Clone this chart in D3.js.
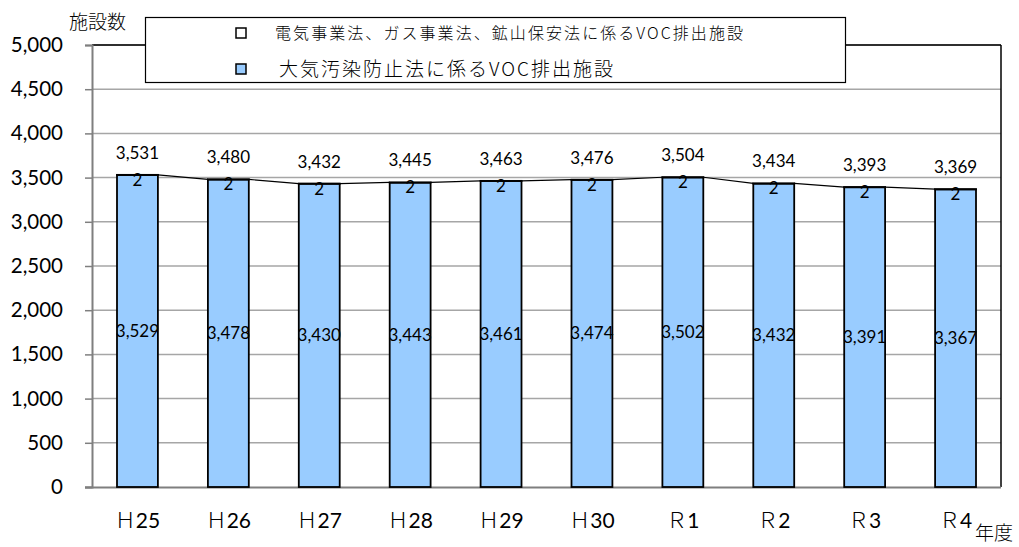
<!DOCTYPE html>
<html><head><meta charset="utf-8">
<script src="https://cdn.jsdelivr.net/npm/d3@7"></script>
<style>
body{margin:0;background:#fff;}
text{font-family:Lato,"Noto Sans CJK JP",sans-serif;}
.jp{font-family:"Noto Sans CJK JP",sans-serif;font-weight:300;}
</style></head>
<body><svg id="c" width="1019" height="547"></svg>
<script>
const categories = ["Ｈ25","Ｈ26","Ｈ27","Ｈ28","Ｈ29","Ｈ30","Ｒ1","Ｒ2","Ｒ3","Ｒ4"];
const airValues = [3529,3478,3430,3443,3461,3474,3502,3432,3391,3367];
const otherValues = [2,2,2,2,2,2,2,2,2,2];
const yTicks = [0,500,1000,1500,2000,2500,3000,3500,4000,4500,5000];
const legendLabels = ["電気事業法、ガス事業法、鉱山保安法に係るVOC排出施設","大気汚染防止法に係るVOC排出施設"];
const yTitle = "施設数", xTitle = "年度";

const svg = d3.select("#c");
const L=92,R=1001,T=45,B=487;
const x = d3.scaleBand().domain(categories).range([L,R]).paddingInner(0.55).paddingOuter(0.275);
const y = d3.scaleLinear().domain([0,5000]).range([B,T]);
const fmt = d3.format(",");

// gridlines
svg.append("g").selectAll("line").data(yTicks.filter(d=>d>0)).join("line")
  .attr("x1",L).attr("x2",R).attr("y1",d=>y(d)).attr("y2",d=>y(d))
  .attr("stroke","#a6a6a6").attr("stroke-width",1.5);
// plot border top/right
svg.append("line").attr("x1",L).attr("x2",R).attr("y1",T).attr("y2",T).attr("stroke","#000").attr("stroke-width",1.5);
svg.append("line").attr("x1",R).attr("x2",R).attr("y1",T).attr("y2",B).attr("stroke","#000").attr("stroke-width",1.5);

// y axis
const ya = svg.append("g").attr("transform",`translate(${L},0)`)
  .call(d3.axisLeft(y).tickValues(yTicks).tickFormat(fmt).tickSize(7).tickPadding(22));
ya.select(".domain").attr("stroke","#7f7f7f").attr("stroke-width",2);
ya.selectAll(".tick line").attr("stroke","#7f7f7f").attr("stroke-width",1.5);
ya.selectAll("text").attr("font-size",20.5).attr("fill","#000").attr("font-family","Lato,sans-serif");

// x axis
const xa = svg.append("g").attr("transform",`translate(0,${B})`)
  .call(d3.axisBottom(x).tickSize(0).tickPadding(22));
xa.select(".domain").attr("stroke","#7f7f7f").attr("stroke-width",2).attr("d",`M${L-7},0.5H${R}`);
xa.selectAll("text").attr("font-size",21).attr("fill","#000").attr("dy","0.9em")
  .each(function(d){
    const t=d3.select(this); t.text(null);
    t.append("tspan").attr("class","jp").text(d.slice(0,1));
    t.append("tspan").text(d.slice(1));
  });

// bars
const bw = x.bandwidth();
svg.append("g").selectAll("rect").data(categories).join("rect")
  .attr("x",d=>x(d)).attr("width",bw)
  .attr("y",(d,i)=>y(airValues[i])).attr("height",(d,i)=>y(0)-y(airValues[i]))
  .attr("fill","#99ccff").attr("stroke","#000").attr("stroke-width",1.8);
svg.append("g").selectAll("rect").data(categories).join("rect")
  .attr("x",d=>x(d)).attr("width",bw)
  .attr("y",(d,i)=>y(airValues[i]+otherValues[i])).attr("height",(d,i)=>y(airValues[i])-y(airValues[i]+otherValues[i]))
  .attr("fill","#fff").attr("stroke","#000").attr("stroke-width",1.8);

// series lines
const segs = categories.slice(0,-1).map((c,i)=>({x1:x(c)+bw,y1:y(airValues[i]+otherValues[i]),x2:x(categories[i+1]),y2:y(airValues[i+1]+otherValues[i+1])}));
svg.append("g").selectAll("line").data(segs).join("line")
  .attr("x1",d=>d.x1).attr("y1",d=>d.y1).attr("x2",d=>d.x2).attr("y2",d=>d.y2)
  .attr("stroke","#000").attr("stroke-width",1.2);

// labels
svg.append("g").selectAll("text").data(categories).join("text")
  .attr("x",d=>x(d)+bw/2).attr("y",(d,i)=>y(airValues[i]/2)).attr("dy","0.35em")
  .attr("text-anchor","middle").attr("font-size",17).text((d,i)=>fmt(airValues[i]));
svg.append("g").selectAll("text").data(categories).join("text")
  .attr("x",d=>x(d)+bw/2).attr("y",(d,i)=>y(airValues[i]+otherValues[i])+5).attr("dy","0.35em")
  .attr("text-anchor","middle").attr("font-size",17).text((d,i)=>otherValues[i]);
svg.append("g").selectAll("text").data(categories).join("text")
  .attr("x",d=>x(d)+bw/2).attr("y",(d,i)=>y(airValues[i]+otherValues[i])-22).attr("dy","0.35em")
  .attr("text-anchor","middle").attr("font-size",17).text((d,i)=>fmt(airValues[i]+otherValues[i]));

// titles
svg.append("text").attr("class","jp").attr("x",69).attr("y",29).attr("font-size",19).text(yTitle);
svg.append("text").attr("class","jp").attr("x",975).attr("y",540).attr("font-size",19).text(xTitle);

// legend
const lg = svg.append("g");
lg.append("rect").attr("x",145.5).attr("y",17.5).attr("width",700).attr("height",65).attr("fill","#fff").attr("stroke","#000").attr("stroke-width",1.2);
const lFill = ["#fff","#99ccff"], lY=[33,69], lSize=[16,19], lX=[275,279], lLen=[468,334];
legendLabels.forEach((t,i)=>{
  lg.append("rect").attr("x",236).attr("y",lY[i]-5).attr("width",10).attr("height",10).attr("fill",lFill[i]).attr("stroke","#000").attr("stroke-width",1.5);
  lg.append("text").attr("class","jp").attr("x",lX[i]).attr("y",lY[i]).attr("dy","0.35em").attr("font-size",lSize[i])
    .attr("textLength",lLen[i]).attr("lengthAdjust","spacing").text(t);
});
</script></body></html>
